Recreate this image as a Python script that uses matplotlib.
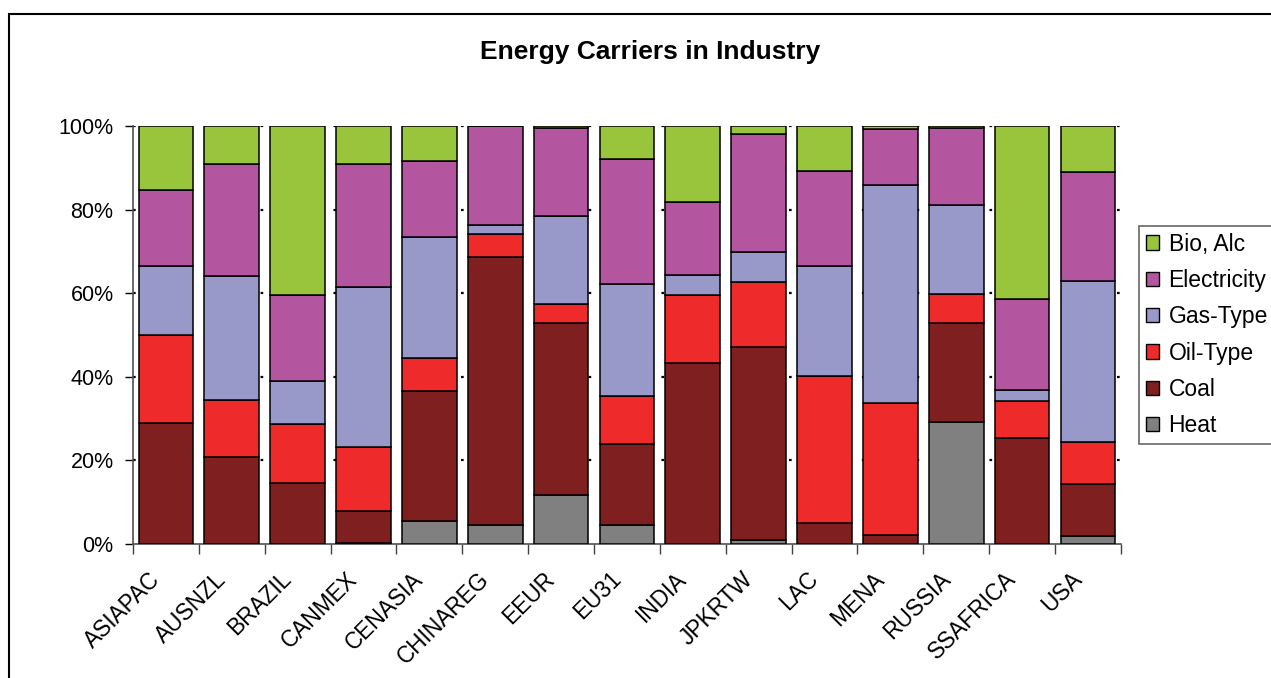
import numpy as np
import matplotlib
matplotlib.use("Agg")
import matplotlib.pyplot as plt
import matplotlib.transforms as mtransforms
from matplotlib.patches import Rectangle, Patch
from matplotlib.ticker import FuncFormatter, FixedLocator

plt.rcParams['font.family'] = ['Liberation Sans', 'DejaVu Sans']

regions = ["ASIAPAC", "AUSNZL", "BRAZIL", "CANMEX", "CENASIA", "CHINAREG", "EEUR",
           "EU31", "INDIA", "JPKRTW", "LAC", "MENA", "RUSSIA", "SSAFRICA", "USA"]

# shares in percent, bottom to top of each stack
heat = [0.0, 0.0, 0.0, 0.3, 5.6, 4.6, 11.8, 4.6, 0.0, 1.0, 0.0, 0.0, 29.3, 0.0, 1.9]
coal = [28.9, 20.9, 14.7, 7.5, 30.9, 64.0, 41.0, 19.3, 43.3, 46.2, 5.1, 2.2, 23.5, 25.4, 12.4]
oil = [21.0, 13.6, 13.9, 15.5, 7.9, 5.5, 4.7, 11.5, 16.2, 15.4, 35.0, 31.5, 7.1, 8.7, 10.2]
gas = [16.7, 29.7, 10.3, 38.2, 29.0, 2.1, 21.0, 26.9, 4.8, 7.2, 26.5, 52.3, 21.3, 2.8, 38.5]
electricity = [18.2, 26.6, 20.6, 29.3, 18.2, 23.8, 21.0, 29.7, 17.5, 28.2, 22.6, 13.2, 18.3, 21.8, 26.0]
bio_alc = [15.2, 9.2, 40.5, 9.2, 8.4, 0.0, 0.5, 8.0, 18.2, 2.0, 10.8, 0.8, 0.5, 41.3, 11.0]

series = [
    ("Heat", heat, "#808080"),
    ("Coal", coal, "#7f1f1f"),
    ("Oil-Type", oil, "#ee2a2a"),
    ("Gas-Type", gas, "#9999c9"),
    ("Electricity", electricity, "#b455a0"),
    ("Bio, Alc", bio_alc, "#99c53c"),
]

fig = plt.figure(figsize=(12.71, 6.78), dpi=100)
ax = fig.add_axes([0.1046, 0.1976, 0.7773, 0.6166])

x = np.arange(len(regions))
bottom = np.zeros(len(regions))
for name, vals, col in series:
    vals = np.array(vals)
    ax.bar(x, vals, bottom=bottom, width=0.83, color=col, edgecolor="black",
           linewidth=1.1, zorder=3)
    bottom += vals

ax.set_xlim(-0.5, len(regions) - 0.5)
ax.set_ylim(0, 100)

# dotted grid behind the bars
for v in [20, 40, 60, 80, 100]:
    ax.axhline(v, color="black", linestyle=(0, (1.2, 7)), linewidth=1.6, zorder=1)

ax.set_yticks([0, 20, 40, 60, 80, 100])
ax.yaxis.set_major_formatter(FuncFormatter(lambda v, p: f"{v:.0f}%"))
ax.tick_params(axis="y", direction="out", length=6, width=1, labelsize=15.5, pad=8)

ax.set_xticks(x)
ax.set_xticklabels(regions, rotation=45, ha="right", va="top", fontsize=16.3)
ax.tick_params(axis="x", length=0, pad=17)
shift = mtransforms.ScaledTranslation(-1 / 72, 0, fig.dpi_scale_trans)
for lab in ax.get_xticklabels():
    lab.set_transform(lab.get_transform() + shift)
ax.xaxis.set_minor_locator(FixedLocator(np.arange(-0.5, len(regions), 1.0)))
ax.tick_params(axis="x", which="minor", direction="out", length=7, width=1, color="#404040")

for s in ["top", "right"]:
    ax.spines[s].set_visible(False)
ax.spines["left"].set_color("#505050")
ax.spines["bottom"].set_color("#505050")
ax.spines["left"].set_linewidth(1.2)
ax.spines["bottom"].set_linewidth(1.2)

fig.text(0.5115, 0.924, "Energy Carriers in Industry", ha="center", va="center",
         fontsize=19, fontweight="bold")

handles = [Patch(facecolor=col, edgecolor="black", linewidth=1.0, label=name)
           for name, vals, col in reversed(series)]
leg = fig.legend(handles=handles, loc="upper left", bbox_to_anchor=(0.896, 0.667),
                 fontsize=16.5, frameon=True, fancybox=False, shadow=False,
                 handlelength=0.58, handleheight=0.58, handletextpad=0.42,
                 labelspacing=0.58, borderpad=0.3, borderaxespad=0)
leg.get_frame().set_edgecolor("#404040")
leg.get_frame().set_linewidth(1.2)

# outer chart frame running off the right and bottom edges
fig.add_artist(Rectangle((9 / 1271, -0.1), 1.2, (678 - 14) / 678 + 0.1,
                         transform=fig.transFigure, fill=False,
                         edgecolor="black", linewidth=1.5))

fig.savefig("out.png", dpi=100)
